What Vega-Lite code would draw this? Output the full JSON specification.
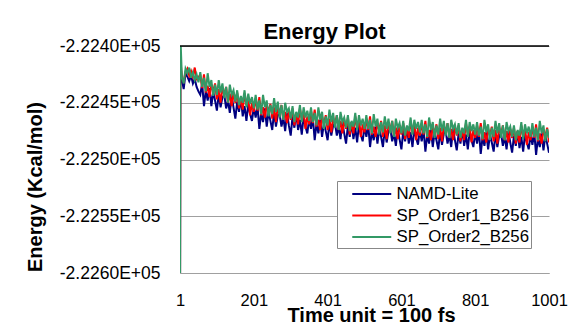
{
"$schema": "https://vega.github.io/schema/vega-lite/v6.json",
"width": 369, "height": 227,
"autosize": {"type": "none"},
"padding": {"left": 180, "top": 46, "right": 35, "bottom": 54},
"background": "white",
"config": {"view": {"stroke": null}, "font": "Liberation Sans"},
"title": {"text": "Energy Plot", "font": "Liberation Sans", "fontSize": 22, "fontWeight": "bold", "color": "black", "anchor": "middle", "dx": -40, "dy": 7, "offset": 0},
"layer": [
{
"data": {"values": [
{"t":1,"NAMD-Lite":-222650,"SP_Order1_B256":-222650,"SP_Order2_B256":-222650},
{"t":2,"NAMD-Lite":-222415,"SP_Order1_B256":-222410,"SP_Order2_B256":-222390},
{"t":6,"NAMD-Lite":-222430,"SP_Order1_B256":-222428,"SP_Order2_B256":-222427},
{"t":11,"NAMD-Lite":-222438,"SP_Order1_B256":-222431,"SP_Order2_B256":-222433},
{"t":16,"NAMD-Lite":-222424,"SP_Order1_B256":-222423,"SP_Order2_B256":-222420},
{"t":21,"NAMD-Lite":-222427,"SP_Order1_B256":-222420,"SP_Order2_B256":-222424},
{"t":26,"NAMD-Lite":-222431,"SP_Order1_B256":-222426,"SP_Order2_B256":-222419},
{"t":31,"NAMD-Lite":-222426,"SP_Order1_B256":-222422,"SP_Order2_B256":-222428},
{"t":36,"NAMD-Lite":-222433,"SP_Order1_B256":-222427,"SP_Order2_B256":-222423},
{"t":41,"NAMD-Lite":-222429,"SP_Order1_B256":-222419,"SP_Order2_B256":-222430},
{"t":46,"NAMD-Lite":-222436,"SP_Order1_B256":-222429,"SP_Order2_B256":-222425},
{"t":51,"NAMD-Lite":-222440,"SP_Order1_B256":-222427,"SP_Order2_B256":-222432},
{"t":56,"NAMD-Lite":-222443,"SP_Order1_B256":-222426,"SP_Order2_B256":-222423},
{"t":61,"NAMD-Lite":-222433,"SP_Order1_B256":-222437,"SP_Order2_B256":-222436},
{"t":66,"NAMD-Lite":-222453,"SP_Order1_B256":-222425,"SP_Order2_B256":-222428},
{"t":71,"NAMD-Lite":-222439,"SP_Order1_B256":-222441,"SP_Order2_B256":-222440},
{"t":76,"NAMD-Lite":-222448,"SP_Order1_B256":-222435,"SP_Order2_B256":-222424},
{"t":81,"NAMD-Lite":-222437,"SP_Order1_B256":-222445,"SP_Order2_B256":-222436},
{"t":86,"NAMD-Lite":-222453,"SP_Order1_B256":-222434,"SP_Order2_B256":-222430},
{"t":91,"NAMD-Lite":-222440,"SP_Order1_B256":-222440,"SP_Order2_B256":-222444},
{"t":96,"NAMD-Lite":-222448,"SP_Order1_B256":-222433,"SP_Order2_B256":-222434},
{"t":101,"NAMD-Lite":-222457,"SP_Order1_B256":-222447,"SP_Order2_B256":-222443},
{"t":106,"NAMD-Lite":-222442,"SP_Order1_B256":-222438,"SP_Order2_B256":-222430},
{"t":111,"NAMD-Lite":-222454,"SP_Order1_B256":-222450,"SP_Order2_B256":-222441},
{"t":116,"NAMD-Lite":-222445,"SP_Order1_B256":-222437,"SP_Order2_B256":-222433},
{"t":121,"NAMD-Lite":-222443,"SP_Order1_B256":-222443,"SP_Order2_B256":-222446},
{"t":126,"NAMD-Lite":-222455,"SP_Order1_B256":-222436,"SP_Order2_B256":-222436},
{"t":131,"NAMD-Lite":-222448,"SP_Order1_B256":-222450,"SP_Order2_B256":-222450},
{"t":136,"NAMD-Lite":-222459,"SP_Order1_B256":-222442,"SP_Order2_B256":-222434},
{"t":141,"NAMD-Lite":-222444,"SP_Order1_B256":-222453,"SP_Order2_B256":-222443},
{"t":146,"NAMD-Lite":-222454,"SP_Order1_B256":-222441,"SP_Order2_B256":-222439},
{"t":151,"NAMD-Lite":-222464,"SP_Order1_B256":-222450,"SP_Order2_B256":-222449},
{"t":156,"NAMD-Lite":-222449,"SP_Order1_B256":-222441,"SP_Order2_B256":-222439},
{"t":161,"NAMD-Lite":-222458,"SP_Order1_B256":-222455,"SP_Order2_B256":-222452},
{"t":166,"NAMD-Lite":-222446,"SP_Order1_B256":-222445,"SP_Order2_B256":-222444},
{"t":171,"NAMD-Lite":-222462,"SP_Order1_B256":-222456,"SP_Order2_B256":-222450},
{"t":176,"NAMD-Lite":-222453,"SP_Order1_B256":-222442,"SP_Order2_B256":-222439},
{"t":181,"NAMD-Lite":-222466,"SP_Order1_B256":-222452,"SP_Order2_B256":-222454},
{"t":186,"NAMD-Lite":-222451,"SP_Order1_B256":-222446,"SP_Order2_B256":-222442},
{"t":191,"NAMD-Lite":-222460,"SP_Order1_B256":-222461,"SP_Order2_B256":-222451},
{"t":196,"NAMD-Lite":-222466,"SP_Order1_B256":-222450,"SP_Order2_B256":-222445},
{"t":201,"NAMD-Lite":-222454,"SP_Order1_B256":-222458,"SP_Order2_B256":-222455},
{"t":206,"NAMD-Lite":-222463,"SP_Order1_B256":-222446,"SP_Order2_B256":-222443},
{"t":211,"NAMD-Lite":-222453,"SP_Order1_B256":-222457,"SP_Order2_B256":-222456},
{"t":216,"NAMD-Lite":-222473,"SP_Order1_B256":-222445,"SP_Order2_B256":-222448},
{"t":221,"NAMD-Lite":-222459,"SP_Order1_B256":-222461,"SP_Order2_B256":-222460},
{"t":226,"NAMD-Lite":-222467,"SP_Order1_B256":-222454,"SP_Order2_B256":-222443},
{"t":231,"NAMD-Lite":-222455,"SP_Order1_B256":-222463,"SP_Order2_B256":-222454},
{"t":236,"NAMD-Lite":-222471,"SP_Order1_B256":-222452,"SP_Order2_B256":-222448},
{"t":241,"NAMD-Lite":-222458,"SP_Order1_B256":-222458,"SP_Order2_B256":-222462},
{"t":246,"NAMD-Lite":-222466,"SP_Order1_B256":-222451,"SP_Order2_B256":-222452},
{"t":251,"NAMD-Lite":-222474,"SP_Order1_B256":-222464,"SP_Order2_B256":-222460},
{"t":256,"NAMD-Lite":-222458,"SP_Order1_B256":-222454,"SP_Order2_B256":-222446},
{"t":261,"NAMD-Lite":-222471,"SP_Order1_B256":-222467,"SP_Order2_B256":-222458},
{"t":266,"NAMD-Lite":-222461,"SP_Order1_B256":-222453,"SP_Order2_B256":-222449},
{"t":271,"NAMD-Lite":-222460,"SP_Order1_B256":-222460,"SP_Order2_B256":-222463},
{"t":276,"NAMD-Lite":-222471,"SP_Order1_B256":-222452,"SP_Order2_B256":-222452},
{"t":281,"NAMD-Lite":-222463,"SP_Order1_B256":-222465,"SP_Order2_B256":-222465},
{"t":286,"NAMD-Lite":-222475,"SP_Order1_B256":-222458,"SP_Order2_B256":-222450},
{"t":291,"NAMD-Lite":-222459,"SP_Order1_B256":-222468,"SP_Order2_B256":-222458},
{"t":296,"NAMD-Lite":-222470,"SP_Order1_B256":-222457,"SP_Order2_B256":-222455},
{"t":301,"NAMD-Lite":-222479,"SP_Order1_B256":-222465,"SP_Order2_B256":-222464},
{"t":306,"NAMD-Lite":-222462,"SP_Order1_B256":-222455,"SP_Order2_B256":-222453},
{"t":311,"NAMD-Lite":-222472,"SP_Order1_B256":-222470,"SP_Order2_B256":-222467},
{"t":316,"NAMD-Lite":-222459,"SP_Order1_B256":-222459,"SP_Order2_B256":-222458},
{"t":321,"NAMD-Lite":-222474,"SP_Order1_B256":-222469,"SP_Order2_B256":-222463},
{"t":326,"NAMD-Lite":-222465,"SP_Order1_B256":-222455,"SP_Order2_B256":-222452},
{"t":331,"NAMD-Lite":-222478,"SP_Order1_B256":-222465,"SP_Order2_B256":-222467},
{"t":336,"NAMD-Lite":-222462,"SP_Order1_B256":-222458,"SP_Order2_B256":-222454},
{"t":341,"NAMD-Lite":-222471,"SP_Order1_B256":-222473,"SP_Order2_B256":-222463},
{"t":346,"NAMD-Lite":-222477,"SP_Order1_B256":-222462,"SP_Order2_B256":-222457},
{"t":351,"NAMD-Lite":-222464,"SP_Order1_B256":-222469,"SP_Order2_B256":-222466},
{"t":356,"NAMD-Lite":-222473,"SP_Order1_B256":-222457,"SP_Order2_B256":-222454},
{"t":361,"NAMD-Lite":-222463,"SP_Order1_B256":-222468,"SP_Order2_B256":-222467},
{"t":366,"NAMD-Lite":-222483,"SP_Order1_B256":-222456,"SP_Order2_B256":-222459},
{"t":371,"NAMD-Lite":-222468,"SP_Order1_B256":-222471,"SP_Order2_B256":-222470},
{"t":376,"NAMD-Lite":-222477,"SP_Order1_B256":-222465,"SP_Order2_B256":-222454},
{"t":381,"NAMD-Lite":-222465,"SP_Order1_B256":-222474,"SP_Order2_B256":-222465},
{"t":386,"NAMD-Lite":-222480,"SP_Order1_B256":-222462,"SP_Order2_B256":-222458},
{"t":391,"NAMD-Lite":-222468,"SP_Order1_B256":-222469,"SP_Order2_B256":-222473},
{"t":396,"NAMD-Lite":-222475,"SP_Order1_B256":-222461,"SP_Order2_B256":-222462},
{"t":401,"NAMD-Lite":-222483,"SP_Order1_B256":-222474,"SP_Order2_B256":-222470},
{"t":406,"NAMD-Lite":-222467,"SP_Order1_B256":-222464,"SP_Order2_B256":-222456},
{"t":411,"NAMD-Lite":-222479,"SP_Order1_B256":-222476,"SP_Order2_B256":-222467},
{"t":416,"NAMD-Lite":-222470,"SP_Order1_B256":-222463,"SP_Order2_B256":-222459},
{"t":421,"NAMD-Lite":-222468,"SP_Order1_B256":-222469,"SP_Order2_B256":-222472},
{"t":426,"NAMD-Lite":-222479,"SP_Order1_B256":-222461,"SP_Order2_B256":-222461},
{"t":431,"NAMD-Lite":-222471,"SP_Order1_B256":-222474,"SP_Order2_B256":-222474},
{"t":436,"NAMD-Lite":-222482,"SP_Order1_B256":-222466,"SP_Order2_B256":-222458},
{"t":441,"NAMD-Lite":-222467,"SP_Order1_B256":-222477,"SP_Order2_B256":-222467},
{"t":446,"NAMD-Lite":-222477,"SP_Order1_B256":-222465,"SP_Order2_B256":-222463},
{"t":451,"NAMD-Lite":-222486,"SP_Order1_B256":-222473,"SP_Order2_B256":-222472},
{"t":456,"NAMD-Lite":-222470,"SP_Order1_B256":-222463,"SP_Order2_B256":-222461},
{"t":461,"NAMD-Lite":-222480,"SP_Order1_B256":-222478,"SP_Order2_B256":-222475},
{"t":466,"NAMD-Lite":-222467,"SP_Order1_B256":-222467,"SP_Order2_B256":-222466},
{"t":471,"NAMD-Lite":-222482,"SP_Order1_B256":-222477,"SP_Order2_B256":-222471},
{"t":476,"NAMD-Lite":-222472,"SP_Order1_B256":-222462,"SP_Order2_B256":-222459},
{"t":481,"NAMD-Lite":-222485,"SP_Order1_B256":-222472,"SP_Order2_B256":-222474},
{"t":486,"NAMD-Lite":-222469,"SP_Order1_B256":-222465,"SP_Order2_B256":-222461},
{"t":491,"NAMD-Lite":-222478,"SP_Order1_B256":-222480,"SP_Order2_B256":-222470},
{"t":496,"NAMD-Lite":-222484,"SP_Order1_B256":-222469,"SP_Order2_B256":-222464},
{"t":501,"NAMD-Lite":-222471,"SP_Order1_B256":-222476,"SP_Order2_B256":-222473},
{"t":506,"NAMD-Lite":-222480,"SP_Order1_B256":-222464,"SP_Order2_B256":-222461},
{"t":511,"NAMD-Lite":-222469,"SP_Order1_B256":-222474,"SP_Order2_B256":-222473},
{"t":516,"NAMD-Lite":-222489,"SP_Order1_B256":-222462,"SP_Order2_B256":-222465},
{"t":521,"NAMD-Lite":-222475,"SP_Order1_B256":-222478,"SP_Order2_B256":-222477},
{"t":526,"NAMD-Lite":-222483,"SP_Order1_B256":-222471,"SP_Order2_B256":-222460},
{"t":531,"NAMD-Lite":-222471,"SP_Order1_B256":-222480,"SP_Order2_B256":-222471},
{"t":536,"NAMD-Lite":-222486,"SP_Order1_B256":-222468,"SP_Order2_B256":-222464},
{"t":541,"NAMD-Lite":-222473,"SP_Order1_B256":-222474,"SP_Order2_B256":-222478},
{"t":546,"NAMD-Lite":-222480,"SP_Order1_B256":-222466,"SP_Order2_B256":-222467},
{"t":551,"NAMD-Lite":-222489,"SP_Order1_B256":-222480,"SP_Order2_B256":-222476},
{"t":556,"NAMD-Lite":-222473,"SP_Order1_B256":-222470,"SP_Order2_B256":-222462},
{"t":561,"NAMD-Lite":-222485,"SP_Order1_B256":-222482,"SP_Order2_B256":-222473},
{"t":566,"NAMD-Lite":-222475,"SP_Order1_B256":-222468,"SP_Order2_B256":-222464},
{"t":571,"NAMD-Lite":-222473,"SP_Order1_B256":-222474,"SP_Order2_B256":-222477},
{"t":576,"NAMD-Lite":-222484,"SP_Order1_B256":-222466,"SP_Order2_B256":-222466},
{"t":581,"NAMD-Lite":-222477,"SP_Order1_B256":-222480,"SP_Order2_B256":-222480},
{"t":586,"NAMD-Lite":-222488,"SP_Order1_B256":-222472,"SP_Order2_B256":-222464},
{"t":591,"NAMD-Lite":-222472,"SP_Order1_B256":-222482,"SP_Order2_B256":-222472},
{"t":596,"NAMD-Lite":-222482,"SP_Order1_B256":-222470,"SP_Order2_B256":-222468},
{"t":601,"NAMD-Lite":-222491,"SP_Order1_B256":-222478,"SP_Order2_B256":-222477},
{"t":606,"NAMD-Lite":-222475,"SP_Order1_B256":-222468,"SP_Order2_B256":-222466},
{"t":611,"NAMD-Lite":-222484,"SP_Order1_B256":-222482,"SP_Order2_B256":-222479},
{"t":616,"NAMD-Lite":-222471,"SP_Order1_B256":-222471,"SP_Order2_B256":-222470},
{"t":621,"NAMD-Lite":-222486,"SP_Order1_B256":-222481,"SP_Order2_B256":-222475},
{"t":626,"NAMD-Lite":-222476,"SP_Order1_B256":-222466,"SP_Order2_B256":-222463},
{"t":631,"NAMD-Lite":-222489,"SP_Order1_B256":-222476,"SP_Order2_B256":-222478},
{"t":636,"NAMD-Lite":-222473,"SP_Order1_B256":-222469,"SP_Order2_B256":-222465},
{"t":641,"NAMD-Lite":-222481,"SP_Order1_B256":-222483,"SP_Order2_B256":-222473},
{"t":646,"NAMD-Lite":-222487,"SP_Order1_B256":-222472,"SP_Order2_B256":-222467},
{"t":651,"NAMD-Lite":-222474,"SP_Order1_B256":-222479,"SP_Order2_B256":-222476},
{"t":656,"NAMD-Lite":-222484,"SP_Order1_B256":-222468,"SP_Order2_B256":-222465},
{"t":661,"NAMD-Lite":-222473,"SP_Order1_B256":-222478,"SP_Order2_B256":-222477},
{"t":666,"NAMD-Lite":-222493,"SP_Order1_B256":-222466,"SP_Order2_B256":-222469},
{"t":671,"NAMD-Lite":-222478,"SP_Order1_B256":-222481,"SP_Order2_B256":-222480},
{"t":676,"NAMD-Lite":-222486,"SP_Order1_B256":-222474,"SP_Order2_B256":-222463},
{"t":681,"NAMD-Lite":-222474,"SP_Order1_B256":-222483,"SP_Order2_B256":-222474},
{"t":686,"NAMD-Lite":-222489,"SP_Order1_B256":-222471,"SP_Order2_B256":-222467},
{"t":691,"NAMD-Lite":-222476,"SP_Order1_B256":-222477,"SP_Order2_B256":-222481},
{"t":696,"NAMD-Lite":-222483,"SP_Order1_B256":-222469,"SP_Order2_B256":-222470},
{"t":701,"NAMD-Lite":-222491,"SP_Order1_B256":-222482,"SP_Order2_B256":-222478},
{"t":706,"NAMD-Lite":-222475,"SP_Order1_B256":-222472,"SP_Order2_B256":-222464},
{"t":711,"NAMD-Lite":-222487,"SP_Order1_B256":-222484,"SP_Order2_B256":-222475},
{"t":716,"NAMD-Lite":-222477,"SP_Order1_B256":-222470,"SP_Order2_B256":-222466},
{"t":721,"NAMD-Lite":-222475,"SP_Order1_B256":-222476,"SP_Order2_B256":-222479},
{"t":726,"NAMD-Lite":-222486,"SP_Order1_B256":-222468,"SP_Order2_B256":-222468},
{"t":731,"NAMD-Lite":-222478,"SP_Order1_B256":-222481,"SP_Order2_B256":-222481},
{"t":736,"NAMD-Lite":-222489,"SP_Order1_B256":-222473,"SP_Order2_B256":-222465},
{"t":741,"NAMD-Lite":-222473,"SP_Order1_B256":-222483,"SP_Order2_B256":-222473},
{"t":746,"NAMD-Lite":-222483,"SP_Order1_B256":-222471,"SP_Order2_B256":-222469},
{"t":751,"NAMD-Lite":-222492,"SP_Order1_B256":-222479,"SP_Order2_B256":-222478},
{"t":756,"NAMD-Lite":-222477,"SP_Order1_B256":-222470,"SP_Order2_B256":-222468},
{"t":761,"NAMD-Lite":-222486,"SP_Order1_B256":-222484,"SP_Order2_B256":-222481},
{"t":766,"NAMD-Lite":-222473,"SP_Order1_B256":-222473,"SP_Order2_B256":-222472},
{"t":771,"NAMD-Lite":-222488,"SP_Order1_B256":-222483,"SP_Order2_B256":-222477},
{"t":776,"NAMD-Lite":-222478,"SP_Order1_B256":-222468,"SP_Order2_B256":-222465},
{"t":781,"NAMD-Lite":-222491,"SP_Order1_B256":-222478,"SP_Order2_B256":-222480},
{"t":786,"NAMD-Lite":-222475,"SP_Order1_B256":-222471,"SP_Order2_B256":-222467},
{"t":791,"NAMD-Lite":-222483,"SP_Order1_B256":-222485,"SP_Order2_B256":-222475},
{"t":796,"NAMD-Lite":-222489,"SP_Order1_B256":-222474,"SP_Order2_B256":-222469},
{"t":801,"NAMD-Lite":-222476,"SP_Order1_B256":-222481,"SP_Order2_B256":-222478},
{"t":806,"NAMD-Lite":-222486,"SP_Order1_B256":-222470,"SP_Order2_B256":-222467},
{"t":811,"NAMD-Lite":-222475,"SP_Order1_B256":-222480,"SP_Order2_B256":-222479},
{"t":816,"NAMD-Lite":-222495,"SP_Order1_B256":-222468,"SP_Order2_B256":-222471},
{"t":821,"NAMD-Lite":-222480,"SP_Order1_B256":-222483,"SP_Order2_B256":-222482},
{"t":826,"NAMD-Lite":-222488,"SP_Order1_B256":-222476,"SP_Order2_B256":-222465},
{"t":831,"NAMD-Lite":-222476,"SP_Order1_B256":-222485,"SP_Order2_B256":-222476},
{"t":836,"NAMD-Lite":-222491,"SP_Order1_B256":-222473,"SP_Order2_B256":-222469},
{"t":841,"NAMD-Lite":-222478,"SP_Order1_B256":-222479,"SP_Order2_B256":-222483},
{"t":846,"NAMD-Lite":-222485,"SP_Order1_B256":-222471,"SP_Order2_B256":-222472},
{"t":851,"NAMD-Lite":-222493,"SP_Order1_B256":-222484,"SP_Order2_B256":-222480},
{"t":856,"NAMD-Lite":-222477,"SP_Order1_B256":-222474,"SP_Order2_B256":-222466},
{"t":861,"NAMD-Lite":-222489,"SP_Order1_B256":-222486,"SP_Order2_B256":-222477},
{"t":866,"NAMD-Lite":-222479,"SP_Order1_B256":-222472,"SP_Order2_B256":-222468},
{"t":871,"NAMD-Lite":-222477,"SP_Order1_B256":-222478,"SP_Order2_B256":-222481},
{"t":876,"NAMD-Lite":-222488,"SP_Order1_B256":-222470,"SP_Order2_B256":-222470},
{"t":881,"NAMD-Lite":-222480,"SP_Order1_B256":-222483,"SP_Order2_B256":-222483},
{"t":886,"NAMD-Lite":-222491,"SP_Order1_B256":-222475,"SP_Order2_B256":-222467},
{"t":891,"NAMD-Lite":-222475,"SP_Order1_B256":-222485,"SP_Order2_B256":-222475},
{"t":896,"NAMD-Lite":-222485,"SP_Order1_B256":-222473,"SP_Order2_B256":-222471},
{"t":901,"NAMD-Lite":-222494,"SP_Order1_B256":-222481,"SP_Order2_B256":-222480},
{"t":906,"NAMD-Lite":-222479,"SP_Order1_B256":-222472,"SP_Order2_B256":-222470},
{"t":911,"NAMD-Lite":-222488,"SP_Order1_B256":-222486,"SP_Order2_B256":-222483},
{"t":916,"NAMD-Lite":-222475,"SP_Order1_B256":-222475,"SP_Order2_B256":-222474},
{"t":921,"NAMD-Lite":-222490,"SP_Order1_B256":-222485,"SP_Order2_B256":-222479},
{"t":926,"NAMD-Lite":-222480,"SP_Order1_B256":-222470,"SP_Order2_B256":-222467},
{"t":931,"NAMD-Lite":-222493,"SP_Order1_B256":-222480,"SP_Order2_B256":-222482},
{"t":936,"NAMD-Lite":-222477,"SP_Order1_B256":-222473,"SP_Order2_B256":-222469},
{"t":941,"NAMD-Lite":-222485,"SP_Order1_B256":-222487,"SP_Order2_B256":-222477},
{"t":946,"NAMD-Lite":-222491,"SP_Order1_B256":-222476,"SP_Order2_B256":-222471},
{"t":951,"NAMD-Lite":-222478,"SP_Order1_B256":-222483,"SP_Order2_B256":-222480},
{"t":956,"NAMD-Lite":-222487,"SP_Order1_B256":-222471,"SP_Order2_B256":-222468},
{"t":961,"NAMD-Lite":-222476,"SP_Order1_B256":-222481,"SP_Order2_B256":-222480},
{"t":966,"NAMD-Lite":-222496,"SP_Order1_B256":-222469,"SP_Order2_B256":-222472},
{"t":971,"NAMD-Lite":-222481,"SP_Order1_B256":-222484,"SP_Order2_B256":-222483},
{"t":976,"NAMD-Lite":-222489,"SP_Order1_B256":-222477,"SP_Order2_B256":-222466},
{"t":981,"NAMD-Lite":-222477,"SP_Order1_B256":-222486,"SP_Order2_B256":-222477},
{"t":986,"NAMD-Lite":-222492,"SP_Order1_B256":-222474,"SP_Order2_B256":-222470},
{"t":991,"NAMD-Lite":-222479,"SP_Order1_B256":-222480,"SP_Order2_B256":-222484},
{"t":996,"NAMD-Lite":-222486,"SP_Order1_B256":-222472,"SP_Order2_B256":-222473},
{"t":1001,"NAMD-Lite":-222494,"SP_Order1_B256":-222485,"SP_Order2_B256":-222481}
]},
"transform": [{"fold": ["NAMD-Lite", "SP_Order1_B256", "SP_Order2_B256"], "as": ["series", "energy"]}],
"mark": {"type": "line", "strokeWidth": 2, "clip": true},
"encoding": {
"x": {"field": "t", "type": "quantitative", "scale": {"domain": [1, 1001], "nice": false, "zero": false},
 "axis": {"values": [1, 201, 401, 601, 801, 1001], "format": "d", "grid": false, "ticks": false, "domain": true, "domainColor": "#a0a0a0", "domainWidth": 1, "labelFont": "Liberation Sans", "labelFontSize": 16.5, "labelColor": "black", "labelPadding": 19, "labelFlush": false, "labelOverlap": false,
  "title": "Time unit = 100 fs", "titleFont": "Liberation Sans", "titleFontSize": 20, "titleFontWeight": "bold", "titleColor": "black", "titleX": 191, "titleY": 42, "titleBaseline": "middle", "titleAlign": "center"}},
"y": {"field": "energy", "type": "quantitative", "scale": {"domain": [-222600, -222400], "nice": false, "zero": false},
 "axis": {"values": [-222600, -222550, -222500, -222450, -222400], "labelExpr": "replace(replace(format(datum.value, '.4e'), 'e+5', 'E+05'), '\u2212', '-')", "grid": true, "gridColor": "#a0a0a0", "gridWidth": 1, "ticks": false, "domain": true, "domainColor": "#a0a0a0", "labelFont": "Liberation Sans", "labelFontSize": 17.5, "labelColor": "black", "labelPadding": 20, "labelFlush": false, "labelOverlap": false,
  "title": "Energy (Kcal/mol)", "titleFont": "Liberation Sans", "titleFontSize": 20, "titleFontWeight": "bold", "titleColor": "black", "titleX": -145, "titleY": 140.5, "titleBaseline": "middle", "titleAlign": "center", "titleAngle": -90}},
"color": {"field": "series", "type": "nominal", "sort": ["NAMD-Lite", "SP_Order1_B256", "SP_Order2_B256"],
 "scale": {"domain": ["NAMD-Lite", "SP_Order1_B256", "SP_Order2_B256"], "range": ["#000080", "#ff0000", "#339966"]},
 "legend": {"orient": "none", "legendX": 157, "legendY": 135, "title": null, "strokeColor": "#888888", "fillColor": "white", "padding": 2, "symbolType": "M-2,0H2", "symbolSize": 380, "symbolStrokeWidth": 2, "symbolOffset": 21.75, "labelFont": "Liberation Sans", "labelFontSize": 16.8, "labelColor": "black", "rowPadding": 1.5, "labelOffset": 13.75}}
}
},
{
"data": {"values": [{"top": -222400}]},
"mark": {"type": "rule", "color": "black", "strokeWidth": 1.5},
"encoding": {"y": {"field": "top", "type": "quantitative"}}
}
]
}
